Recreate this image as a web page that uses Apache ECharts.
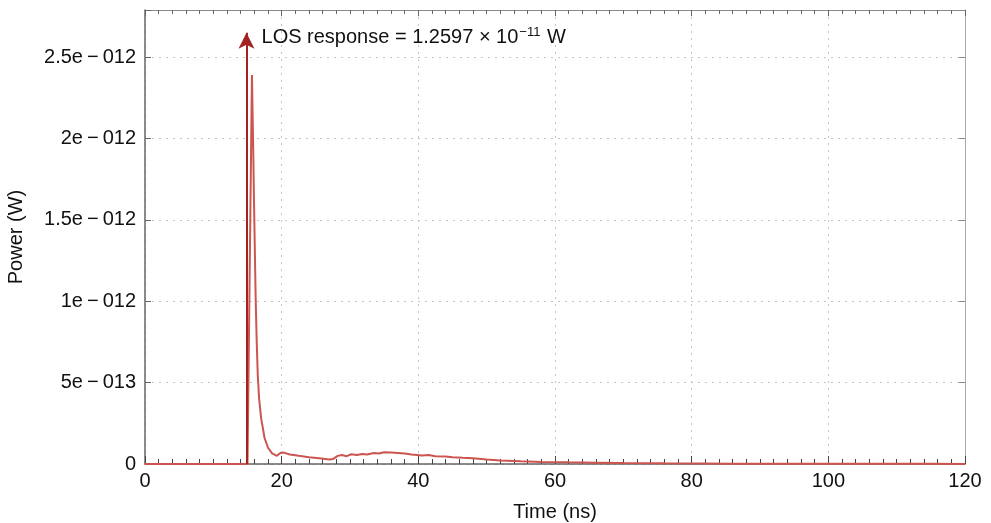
<!DOCTYPE html>
<html>
<head>
<meta charset="utf-8">
<script src="https://cdn.jsdelivr.net/npm/echarts@6/dist/echarts.min.js"></script>
<style>
  html, body { margin: 0; padding: 0; background: #fff; }
  #chart { width: 991px; height: 523px; }
</style>
</head>
<body>
<div id="chart"></div>
<script>
'use strict';

// time (ns) and received power (in units of 1e-12 W)
var timeNs = [0, 15.0, 15.2, 15.65, 15.85, 15.95, 16.1, 16.2, 16.35, 16.5, 16.7, 17.0, 17.5, 18.0, 18.6,
    19.3, 19.8, 20.3, 21.2, 22.5, 24, 25.5, 27, 27.5, 28.2, 28.8, 29.5, 30.2, 31, 31.8, 32.5,
    33.5, 34.2, 35, 36, 37, 38, 39, 39.8, 40.5, 41.5, 42.5, 44, 45, 46.5, 48, 50, 52, 55, 58,
    62, 66, 70, 76, 82, 86, 95, 105, 115, 120];
var powerPW = [0, 0, 0, 2.39, 1.9, 1.62, 1.25, 1.01, 0.75, 0.55, 0.40, 0.28, 0.16, 0.10, 0.065,
    0.05, 0.068, 0.07, 0.058, 0.05, 0.042, 0.035, 0.028, 0.03, 0.05, 0.055, 0.048, 0.06, 0.055, 0.062, 0.058,
    0.068, 0.064, 0.072, 0.07, 0.068, 0.064, 0.058, 0.056, 0.052, 0.055, 0.048, 0.046, 0.042, 0.038, 0.035, 0.028, 0.022, 0.017, 0.013,
    0.010, 0.008, 0.006, 0.004, 0.003, 0.002, 0.0015, 0.001, 0.0008, 0.0006];

// LOS impulse arrow
var losTime = 14.85;
var losArrowTop = 2.65;
var losText = ['LOS response = 1.2597 × 10', '\u221211', ' W'];

// y tick labels (MATLAB style)
var yTicks = [0, 0.5, 1, 1.5, 2, 2.5];
var yTickLabels = ['0', '5e\u2009\u2212\u2009013', '1e\u2009\u2212\u2009012', '1.5e\u2009\u2212\u2009012',
    '2e\u2009\u2212\u2009012', '2.5e\u2009\u2212\u2009012'];

var curveData = [];
for (var i = 0; i < timeNs.length; i++) {
    curveData.push([timeNs[i], powerPW[i]]);
}

var font = 'Liberation Sans, Arial, Helvetica, sans-serif';
var my_chart = echarts.init(document.getElementById('chart'), null, {renderer: 'canvas'});

var gridLine = {
    show: true,
    lineStyle: {color: '#c4c4c4', type: [2, 5], width: 1}
};

my_chart.setOption({
    animation: false,
    grid: {left: 145, right: 26, top: 10, bottom: 59, outerBoundsMode: 'none'},
    xAxis: [{
        type: 'value',
        min: 0,
        max: 120,
        interval: 20,
        name: 'Time (ns)',
        nameLocation: 'middle',
        nameGap: 38,
        nameTextStyle: {fontFamily: font, fontSize: 20, color: '#111'},
        axisLine: {show: true, onZero: false, lineStyle: {color: '#666', width: 1.5}},
        axisTick: {show: true, inside: true, length: 8, lineStyle: {color: '#444'}},
        minorTick: {show: true, splitNumber: 10, length: 5, lineStyle: {color: '#444'}},
        axisLabel: {fontFamily: font, fontSize: 20, color: '#111', margin: 7},
        splitLine: gridLine
    }, {
        type: 'value',
        position: 'top',
        min: 0,
        max: 120,
        interval: 20,
        axisLine: {show: true, onZero: false, lineStyle: {color: '#888', width: 1}},
        axisTick: {show: true, inside: true, length: 6, lineStyle: {color: '#666'}},
        minorTick: {show: true, splitNumber: 10, length: 4, lineStyle: {color: '#666'}},
        axisLabel: {show: false},
        splitLine: {show: false}
    }],
    yAxis: [{
        type: 'value',
        min: 0,
        max: 2.79,
        interval: 0.5,
        name: 'Power (W)',
        nameLocation: 'middle',
        nameGap: 119,
        nameTextStyle: {fontFamily: font, fontSize: 20, color: '#111'},
        axisLine: {show: true, onZero: false, lineStyle: {color: '#666', width: 1.5}},
        axisTick: {show: true, inside: true, length: 6, lineStyle: {color: '#666'}},
        axisLabel: {
            fontFamily: font, fontSize: 20, color: '#111', margin: 9,
            formatter: function (v) {
                for (var k = 0; k < yTicks.length; k++) {
                    if (Math.abs(v - yTicks[k]) < 1e-9) {
                        return yTickLabels[k];
                    }
                }
                return '';
            }
        },
        splitLine: gridLine
    }, {
        type: 'value',
        position: 'right',
        min: 0,
        max: 2.79,
        interval: 0.5,
        axisLine: {show: true, onZero: false, lineStyle: {color: '#aaa', width: 1}},
        axisTick: {show: true, inside: true, length: 6, lineStyle: {color: '#888'}},
        axisLabel: {show: false},
        splitLine: {show: false}
    }],
    series: [{
        type: 'line',
        data: curveData,
        showSymbol: false,
        symbol: 'none',
        lineStyle: {color: '#cc5550', width: 2},
        z: 3,
        markLine: {
            silent: true,
            symbol: ['none', 'arrow'],
            symbolSize: [12, 16],
            lineStyle: {color: '#a32323', width: 2, type: 'solid'},
            label: {show: false},
            data: [[{coord: [losTime, 0]}, {coord: [losTime, losArrowTop]}]]
        },
        markPoint: {
            silent: true,
            symbol: 'circle',
            symbolSize: 0,
            data: [{coord: [losTime + 2.2, 2.62]}],
            label: {
                show: true,
                position: 'right',
                distance: 0,
                formatter: '{a|' + losText[0] + '}{s|' + losText[1] + '}{a|' + losText[2] + '}',
                rich: {
                    a: {fontFamily: font, fontSize: 20, color: '#111', lineHeight: 24},
                    s: {fontFamily: font, fontSize: 13, color: '#111', lineHeight: 24, verticalAlign: 'top', padding: [0, 1, 13, 1]}
                }
            }
        }
    }]
});
</script>
</body>
</html>
